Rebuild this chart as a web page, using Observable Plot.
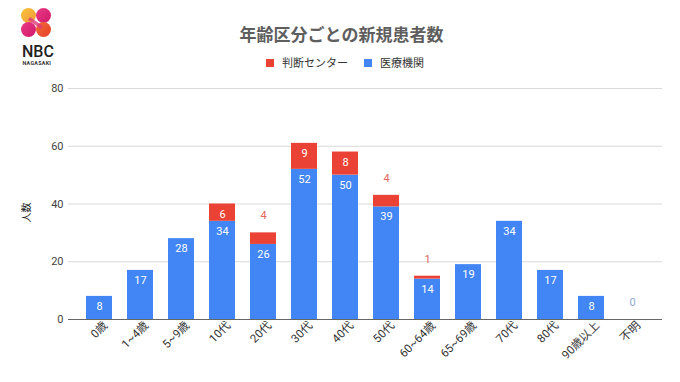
<!DOCTYPE html>
<html>
<head>
<meta charset="utf-8">
<script src="https://cdn.jsdelivr.net/npm/d3@7"></script>
<script src="https://cdn.jsdelivr.net/npm/@observablehq/plot@0.6"></script>
<style>
  body { margin: 0; background: #fff; }
  #wrap { position: relative; width: 680px; height: 382px; overflow: hidden; font-family: Roboto, "Noto Sans CJK JP", sans-serif; }
  #chart { position: absolute; left: 0; top: 0; }
  .abs { position: absolute; white-space: nowrap; }
</style>
</head>
<body>
<div id="wrap">
  <div id="chart"></div>
  <svg class="abs" style="left:18px;top:4px" width="40" height="64">
    <defs>
      <linearGradient id="gA" x1="0" y1="0" x2="1" y2="1">
        <stop offset="0" stop-color="#f8c23a"/><stop offset="1" stop-color="#f29a3c"/>
      </linearGradient>
      <linearGradient id="gB" x1="0" y1="0" x2="1" y2="1">
        <stop offset="0" stop-color="#ea3a84"/><stop offset="1" stop-color="#d01a6c"/>
      </linearGradient>
      <linearGradient id="gC" x1="0" y1="0" x2="1" y2="1">
        <stop offset="0" stop-color="#f26a36"/><stop offset="1" stop-color="#e5402a"/>
      </linearGradient>
    </defs>
    <circle cx="10.5" cy="11.5" r="7.5" fill="url(#gA)"/>
    <circle cx="25.5" cy="11.5" r="7.5" fill="url(#gB)"/>
    <circle cx="10.5" cy="25.5" r="7.5" fill="url(#gB)"/>
    <circle cx="25.5" cy="25.5" r="7.5" fill="url(#gC)"/>
    <path d="M12,13 L25,22 L23,25 L10,16 Z" fill="#e23a7a" opacity="0.8"/>
    <text x="4" y="53" font-family="Roboto, sans-serif" font-size="16" font-weight="500" fill="#222">NBC</text>
    <text x="4.5" y="60.5" font-family="Roboto, sans-serif" font-size="5.4" font-weight="700" fill="#333" letter-spacing="0.25">NAGASAKI</text>
  </svg>
  <div class="abs" id="title" style="left:0;width:683px;top:21px;text-align:center;font-size:17px;font-weight:700;color:#5e5e5e;font-family:'Noto Sans CJK JP', sans-serif;">年齢区分ごとの新規患者数</div>
  <div class="abs" id="legend" style="left:266px;top:54px;font-size:11px;color:#333;font-family:'Noto Sans CJK JP', sans-serif;line-height:16px;"></div>
  <div class="abs" style="left:15px;top:205px;font-size:10px;color:#222;transform:rotate(-90deg);transform-origin:center;font-family:'Noto Sans CJK JP', sans-serif;">人数</div>
</div>
<script>
const categories = ["0歳", "1~4歳", "5~9歳", "10代", "20代", "30代", "40代", "50代", "60~64歳", "65~69歳", "70代", "80代", "90歳以上", "不明"];
const seriesNames = ["判断センター", "医療機関"];
const iryoKikan = [8, 17, 28, 34, 26, 52, 50, 39, 14, 19, 34, 17, 8, 0];
const handanCenter = [0, 0, 0, 6, 4, 9, 8, 4, 1, 0, 0, 0, 0, 0];
const yTicks = [0, 20, 40, 60, 80];
const colors = ["#ea4335", "#4285f4"];

// table: blue (医療機関) rows first so they stack at the bottom
const rows = [];
categories.forEach((c, i) => rows.push({cat: c, series: "医療機関", value: iryoKikan[i]}));
categories.forEach((c, i) => rows.push({cat: c, series: "判断センター", value: handanCenter[i]}));

const blueLabels = categories.map((c, i) => ({cat: c, top: iryoKikan[i], v: iryoKikan[i]}));
const redInside = categories.map((c, i) => ({cat: c, top: iryoKikan[i] + handanCenter[i], v: handanCenter[i]})).filter(d => d.v >= 5);
const redOutside = categories.map((c, i) => ({cat: c, top: iryoKikan[i] + handanCenter[i], v: handanCenter[i]})).filter(d => d.v > 0 && d.v < 5);

// legend
const legend = document.getElementById("legend");
legend.innerHTML = seriesNames.map((s, i) =>
  `<span style="display:inline-block;width:8px;height:8px;background:${colors[i]};margin-right:8px;vertical-align:0px"></span><span style="margin-right:${i === 0 ? 16 : 0}px">${s}</span>`
).join("");

const chart = Plot.plot({
  width: 680,
  height: 382,
  marginTop: 88,
  marginBottom: 63,
  marginLeft: 68,
  marginRight: 18,
  style: {fontFamily: 'Roboto, "Noto Sans CJK JP", sans-serif', background: "transparent"},
  x: {domain: categories, paddingInner: 0.37, paddingOuter: 0.36, label: null},
  y: {domain: [0, 80], label: null},
  color: {domain: seriesNames, range: colors},
  marks: [
    Plot.gridY(yTicks.filter(t => t > 0), {stroke: "#d9d9d9", strokeOpacity: 1}),
    Plot.axisY(yTicks, {tickSize: 0, tickPadding: 5, fontSize: 11, fill: "#444", label: null}),
    Plot.axisX({tickSize: 0, tickRotate: -45, tickPadding: 4, dx: 6, fontSize: 11.5, fill: "#333", label: null}),
    Plot.barY(rows, {x: "cat", y: "value", fill: "series"}),
    Plot.ruleY([0], {stroke: "#666", strokeWidth: 1.2}),
    Plot.text(blueLabels.filter(d => d.v > 0), {x: "cat", y: "top", text: d => String(d.v), dy: 10, fill: "white", fontSize: 11}),
    Plot.text(blueLabels.filter(d => d.v === 0), {x: "cat", y: "top", text: d => String(d.v), dy: -17, fill: "#8fa8cc", fontSize: 11}),
    Plot.text(redInside, {x: "cat", y: "top", text: d => String(d.v), dy: 10, fill: "white", fontSize: 11}),
    Plot.text(redOutside, {x: "cat", y: "top", text: d => String(d.v), dy: -17, fill: "#e0685c", fontSize: 11})
  ]
});
document.getElementById("chart").appendChild(chart);
</script>
</body>
</html>
